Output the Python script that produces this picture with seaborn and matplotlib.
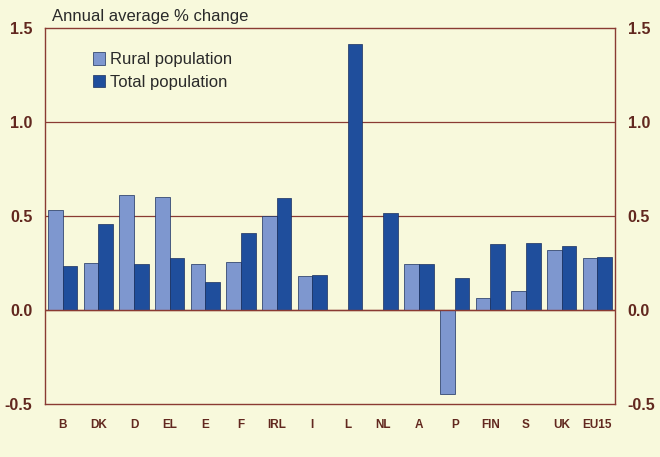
import numpy as np
import pandas as pd
import matplotlib
matplotlib.use("Agg")
import matplotlib.pyplot as plt
import seaborn as sns

# Données
pays = ['B', 'DK', 'D', 'EL', 'E', 'F', 'IRL', 'I', 'L', 'NL', 'A', 'P', 'FIN', 'S', 'UK', 'EU15']
rurale = [0.53, 0.25, 0.61, 0.60, 0.246, 0.254, 0.497, 0.178, np.nan, np.nan, 0.247, -0.445, 0.064, 0.10, 0.32, 0.274]
totale = [0.233, 0.457, 0.244, 0.276, 0.15, 0.409, 0.593, 0.185, 1.416, 0.518, 0.244, 0.169, 0.352, 0.358, 0.342, 0.283]
series = ['Rural population', 'Total population']

df = pd.DataFrame({
    'pays': pays * 2,
    'valeur': rurale + totale,
    'serie': [series[0]] * len(pays) + [series[1]] * len(pays),
})

fond = '#f8f9dc'
brun = '#8a3b33'
texte = '#62281f'

sns.set_theme(style='white')
plt.rcParams['font.family'] = ['Liberation Sans', 'DejaVu Sans']

fig = plt.figure(figsize=(6.6, 4.57), dpi=100, facecolor=fond)
ax = fig.add_axes([0.068, 0.116, 0.864, 0.823])
ax.set_facecolor(fond)

sns.barplot(data=df, x='pays', y='valeur', hue='serie', order=pays, hue_order=series,
            palette=['#7e97cf', '#1f4e9c'], width=0.82, edgecolor='#1a2f5e', linewidth=0.5,
            saturation=1, ax=ax, zorder=3)

ax.set_ylim(-0.5, 1.5)
ax.set_yticks([-0.5, 0.0, 0.5, 1.0, 1.5])
ax.set_yticklabels(['-0.5', '0.0', '0.5', '1.0', '1.5'])
for y in [0.0, 0.5, 1.0]:
    ax.axhline(y, color=brun, lw=0.9, zorder=1)
ax.axhline(0.0, color=brun, lw=1.0, zorder=4)

for s in ax.spines.values():
    s.set_color(brun)
    s.set_linewidth(1.0)

ax.tick_params(axis='y', length=0, pad=9, labelsize=11.5, labelcolor=texte,
               right=True, labelright=True)
ax.tick_params(axis='x', length=0, pad=11, labelsize=8.5, labelcolor=texte)
for lab in ax.get_xticklabels() + ax.get_yticklabels():
    lab.set_fontweight('bold')
ax.set_xlabel('')
ax.set_ylabel('')

fig.text(0.079, 0.947, 'Annual average % change', fontsize=12, color='#2a2a2a', va='bottom')

leg = ax.legend(loc='upper left', bbox_to_anchor=(0.058, 0.975), frameon=False, fontsize=12,
                handlelength=0.75, handleheight=0.75, handletextpad=0.25, labelspacing=0.45)
for t in leg.get_texts():
    t.set_color('#2a2a2a')

fig.savefig('out.png', dpi=100, facecolor=fond)
